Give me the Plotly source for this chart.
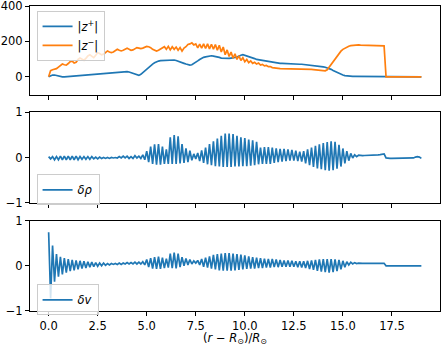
import plotly.graph_objects as go

# sampling grid along (r - R_sun)/R_sun : 0.0 .. 19.0 in steps of 0.1
X = [round(0.1 * i, 1) for i in range(191)]

X_TICKS = [0, 2.5, 5, 7.5, 10, 12.5, 15, 17.5]
X_TICK_LABELS = ["0.0", "2.5", "5.0", "7.5", "10.0", "12.5", "15.0", "17.5"]

ZPLUS = [
    0, 6, 10, 10, 7, 3, 1, 0, 0, 1,
    1, 1, 1, 2, 3, 4, 5, 6, 7, 8,
    9, 10, 11, 12, 14, 15, 16, 17, 18, 19,
    20, 21, 22, 23, 24, 25, 26, 28, 29, 30,
    29, 27, 23, 19, 14, 10, 8, 14, 24, 34,
    45, 55, 64, 72, 79, 85, 89, 91, 92, 93,
    94, 96, 97, 97, 95, 92, 89, 85, 80, 76,
    72, 68, 66, 68, 74, 82, 90, 98, 105, 110,
    113, 116, 118, 119, 117, 116, 112, 110, 106, 105,
    103, 104, 104, 106, 106, 109, 112, 119, 122, 125,
    122, 119, 114, 111, 106, 103, 98, 96, 92, 91,
    88, 87, 84, 83, 80, 80, 78, 78, 76, 76,
    75, 75, 74, 74, 73, 73, 72, 72, 71, 71,
    70, 69, 68, 67, 66, 64, 62, 61, 60, 58,
    56, 54, 51, 47, 42, 36, 30, 24, 19, 14,
    10, 7, 5, 3, 2, 2, 2, 2, 2, 2,
    2, 2, 2, 2, 2, 2, 2, 2, 2, 2,
    2, 2, 0, 0, 0, 0, 0, 0, 0, 0,
    0, 0, 0, 0, 0, 0, 0, 0, 0, 0,
    0,
]

ZMINUS = [
    0, 35, 40, 43, 46, 55, 65, 72, 68, 66,
    75, 86, 88, 78, 82, 98, 106, 100, 94, 104,
    118, 124, 116, 108, 122, 136, 132, 124, 128, 140,
    146, 140, 137, 140, 150, 156, 150, 146, 150, 158,
    161, 156, 150, 152, 160, 165, 162, 159, 162, 168,
    172, 170, 165, 155, 148, 145, 150, 158, 162, 170,
    155, 172, 152, 170, 155, 168, 150, 165, 145, 162,
    170, 183, 186, 192, 180, 186, 164, 185, 162, 186,
    160, 186, 158, 184, 156, 182, 150, 178, 140, 168,
    125, 152, 115, 140, 105, 130, 98, 118, 92, 108,
    85, 98, 80, 90, 76, 82, 72, 78, 66, 70,
    62, 64, 57, 58, 52, 52, 49, 48, 46, 46,
    45, 45, 45, 44, 45, 44, 44, 44, 43, 43,
    43, 43, 42, 42, 42, 41, 40, 38, 36, 34,
    33, 34, 40, 55, 70, 88, 105, 118, 132, 145,
    155, 162, 168, 173, 176, 178, 180, 180, 180, 179,
    179, 179, 178, 178, 178, 178, 177, 177, 177, 176,
    176, 175, 0, 0, 0, 0, 0, 0, 0, 0,
    0, 0, 0, 0, 0, 0, 0, 0, 0, 0,
    0,
]

DRHO = [
    0.02, -0.03, 0.02, -0.05, 0.02, -0.05, 0.03, -0.05, 0.03, -0.05,
    0.03, -0.05, 0.03, -0.05, 0.03, -0.05, 0.02, -0.04, 0.02, -0.04,
    0.02, -0.04, 0.02, -0.03, 0.01, -0.03, 0.01, -0.02, 0.0, -0.02,
    0.0, -0.02, 0.0, -0.01, 0.0, -0.01, 0.02, -0.01, 0.03, -0.01,
    0.03, -0.02, 0.02, -0.02, 0.04, -0.01, 0.03, -0.02, 0.06, -0.05,
    0.14, -0.10, 0.24, -0.14, 0.29, -0.16, 0.30, -0.16, 0.24, -0.14,
    0.18, -0.14, 0.45, -0.14, 0.50, -0.14, 0.47, -0.13, 0.30, -0.12,
    0.20, -0.10, 0.15, -0.06, 0.08, -0.03, 0.10, -0.08, 0.16, -0.12,
    0.22, -0.15, 0.30, -0.17, 0.36, -0.19, 0.42, -0.20, 0.48, -0.21,
    0.53, -0.21, 0.53, -0.21, 0.52, -0.20, 0.48, -0.20, 0.45, -0.19,
    0.43, -0.19, 0.40, -0.18, 0.38, -0.17, 0.35, -0.15, 0.22, -0.14,
    0.23, -0.14, 0.23, -0.14, 0.22, -0.12, 0.20, -0.10, 0.19, -0.09,
    0.19, -0.08, 0.18, -0.07, 0.17, -0.07, 0.15, -0.08, 0.13, -0.09,
    0.14, -0.13, 0.18, -0.17, 0.22, -0.21, 0.26, -0.24, 0.29, -0.26,
    0.32, -0.28, 0.34, -0.29, 0.36, -0.28, 0.35, -0.25, 0.28, -0.20,
    0.20, -0.13, 0.14, -0.07, 0.09, -0.01, 0.06, 0.02, 0.05, 0.04,
    0.04, 0.045, 0.045, 0.05, 0.05, 0.05, 0.055, 0.06, 0.06, 0.065,
    0.07, 0.08, -0.01, -0.02, -0.02, -0.02, -0.02, -0.02, -0.02, -0.02,
    -0.02, -0.02, -0.02, -0.02, -0.01, -0.01, -0.01, 0.01, 0.02, 0.01,
    -0.02,
]

DV = [
    0.74, -0.72, 0.45, -0.35, 0.26, -0.24, 0.20, -0.19, 0.17, -0.15,
    0.15, -0.12, 0.13, -0.10, 0.12, -0.08, 0.11, -0.06, 0.10, -0.05,
    0.09, -0.03, 0.08, -0.02, 0.07, -0.01, 0.06, 0.0, 0.06, 0.01,
    0.05, 0.02, 0.05, 0.03, 0.05, 0.03, 0.06, 0.03, 0.06, 0.04,
    0.07, 0.04, 0.07, 0.04, 0.08, 0.04, 0.08, 0.04, 0.09, 0.02,
    0.14, -0.03, 0.17, -0.06, 0.19, -0.07, 0.20, -0.07, 0.18, -0.05,
    0.16, -0.04, 0.27, -0.05, 0.29, -0.06, 0.27, -0.03, 0.19, 0.0,
    0.16, 0.02, 0.14, 0.04, 0.11, 0.06, 0.12, 0.02, 0.15, -0.02,
    0.18, -0.04, 0.21, -0.06, 0.24, -0.08, 0.26, -0.10, 0.27, -0.11,
    0.28, -0.11, 0.28, -0.11, 0.27, -0.10, 0.26, -0.09, 0.25, -0.08,
    0.23, -0.07, 0.21, -0.06, 0.19, -0.06, 0.18, -0.05, 0.17, -0.05,
    0.16, -0.04, 0.15, -0.04, 0.15, -0.03, 0.14, -0.03, 0.13, -0.02,
    0.12, -0.02, 0.12, -0.02, 0.11, -0.02, 0.10, -0.03, 0.10, -0.04,
    0.10, -0.05, 0.11, -0.07, 0.12, -0.09, 0.13, -0.11, 0.14, -0.13,
    0.15, -0.14, 0.15, -0.15, 0.15, -0.14, 0.14, -0.12, 0.13, -0.08,
    0.11, -0.03, 0.09, 0.02, 0.08, 0.04, 0.07, 0.05, 0.06, 0.05,
    0.055, 0.055, 0.055, 0.055, 0.055, 0.055, 0.055, 0.055, 0.055, 0.055,
    0.055, 0.055, 0.0, 0.0, 0.0, 0.0, 0.0, 0.0, 0.0, 0.0,
    0.0, 0.0, 0.0, 0.0, 0.0, 0.0, 0.0, 0.0, 0.0, 0.0,
    0.0,
]

for arr in (ZPLUS, ZMINUS, DRHO, DV):
    assert len(arr) == len(X), len(arr)

BLUE = "#1f77b4"
ORANGE = "#ff7f0e"
FONT = "DejaVu Sans"
FS = 11.5
LW = 1.7

fig = go.Figure()
fig.add_trace(go.Scatter(x=X, y=ZPLUS, mode="lines", line=dict(color=BLUE, width=LW),
                         name="|<i>z</i><sup>+</sup>|", xaxis="x", yaxis="y", legend="legend"))
fig.add_trace(go.Scatter(x=X, y=ZMINUS, mode="lines", line=dict(color=ORANGE, width=LW),
                         name="|<i>z</i><sup>−</sup>|", xaxis="x", yaxis="y", legend="legend"))
fig.add_trace(go.Scatter(x=X, y=DRHO, mode="lines", line=dict(color=BLUE, width=LW),
                         name="<i>δρ</i>", xaxis="x2", yaxis="y2", legend="legend2"))
fig.add_trace(go.Scatter(x=X, y=DV, mode="lines", line=dict(color=BLUE, width=LW),
                         name="<i>δv</i>", xaxis="x3", yaxis="y3", legend="legend3"))

common = dict(showline=True, linecolor="black", linewidth=1, mirror=True,
              ticks="outside", ticklen=4, tickwidth=1, tickcolor="black",
              showgrid=False, zeroline=False, automargin=False,
              ticklabeloverflow="allow",
              tickfont=dict(family=FONT, size=FS, color="black"))

xcommon = dict(common, range=[-0.95, 19.95], tickvals=X_TICKS, ticktext=X_TICK_LABELS)

leg = dict(x=0.016, xanchor="left", yanchor="top", bgcolor="rgba(255,255,255,0.8)",
           bordercolor="#cccccc", borderwidth=1,
           font=dict(family=FONT, size=FS, color="black"), tracegroupgap=2)

fig.update_layout(
    width=443, height=345,
    margin=dict(l=30, r=3, t=6, b=34),
    plot_bgcolor="white", paper_bgcolor="white",
    font=dict(family=FONT, size=FS, color="black"),
    xaxis=dict(xcommon, anchor="y", domain=[0, 1], showticklabels=False),
    yaxis=dict(common, anchor="x", domain=[0.7098, 1.0], range=[-100, 400],
               tickvals=[0, 200, 400], ticktext=["0", "200", "400"]),
    xaxis2=dict(xcommon, anchor="y2", domain=[0, 1], showticklabels=False, matches="x"),
    yaxis2=dict(common, anchor="x2", domain=[0.3552, 0.6513], range=[-1, 1],
                tickvals=[-1, 0, 1], ticktext=["−1", "0", "1"]),
    xaxis3=dict(xcommon, anchor="y3", domain=[0, 1], matches="x"),
    yaxis3=dict(common, anchor="x3", domain=[0.0, 0.2964], range=[-1, 1],
                tickvals=[-1, 0, 1], ticktext=["−1", "0", "1"]),
    legend=dict(leg, y=0.984),
    legend2=dict(leg, y=0.448),
    legend3=dict(leg, y=0.087),
    showlegend=True,
    annotations=[dict(
        text="(<i>r</i> − <i>R</i><sub>⊙</sub>)/<i>R</i><sub>⊙</sub>",
        xref="paper", yref="paper", x=0.5, y=-0.089, xanchor="center", yanchor="middle",
        showarrow=False, font=dict(family=FONT, size=FS, color="black"),
    )],
)

fig.write_html(
    "out.html",
    config={"displayModeBar": False},
    post_script="document.body.style.margin='0';document.body.style.overflow='hidden';"
                "window.dispatchEvent(new Event('resize'));",
)
